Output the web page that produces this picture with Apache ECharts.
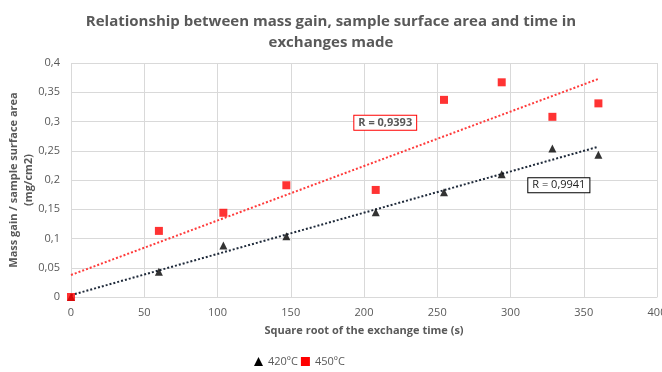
<!DOCTYPE html>
<html><head><meta charset="utf-8">
<script src="https://cdn.jsdelivr.net/npm/echarts@6/dist/echarts.min.js"></script>
<style>html,body{margin:0;padding:0;background:#fff}#c{width:662px;height:372px}</style>
</head><body><div id="c"></div>
<script>
var xTimes = [0, 60, 104, 147, 208, 254.6, 294, 328.6, 360];
var y420 = [0, 0.043, 0.088, 0.104, 0.145, 0.179, 0.210, 0.254, 0.243];
var y450 = [0, 0.113, 0.144, 0.191, 0.183, 0.337, 0.367, 0.308, 0.331];
var seriesNames = ['420ºC', '450ºC'];
var rLabels = ['R = 0,9941', 'R = 0,9393'];
var rLabelPos420 = [333, 0.191];
var rLabelPos450 = [214.5, 0.298];

function pairs(xs, ys){ return xs.map(function(x,i){ return [x, ys[i]]; }); }
function fit(xs, ys){
  var n = xs.length, mx = 0, my = 0;
  for (var i=0;i<n;i++){ mx += xs[i]; my += ys[i]; }
  mx/=n; my/=n;
  var sxy=0, sxx=0;
  for (var j=0;j<n;j++){ sxy += (xs[j]-mx)*(ys[j]-my); sxx += (xs[j]-mx)*(xs[j]-mx); }
  var b = sxy/sxx, a = my - b*mx;
  var x0 = Math.min.apply(null, xs), x1 = Math.max.apply(null, xs);
  return [[x0, a+b*x0],[x1, a+b*x1]];
}
var fmt = function(v){ return String(+v.toFixed(2)).replace('.', ','); };
var txt = '#595959';
var font = 'Open Sans';
var chart = echarts.init(document.getElementById('c'));
chart.setOption({
  animation: false,
  textStyle: {fontFamily: font},
  title: {
    text: 'Relationship between mass gain, sample surface area and time in\nexchanges made',
    left: 'center', top: 6,
    textStyle: {fontFamily: font, fontSize: 15, fontWeight: 'bold', color: txt, lineHeight: 21}
  },
  legend: {
    bottom: 0, left: 249, itemWidth: 9, itemHeight: 9, itemGap: 3,
    textStyle: {color: txt, fontSize: 11, fontFamily: font},
    data: [{name: seriesNames[0], icon: 'triangle', itemStyle:{color:'#000'}}, {name: seriesNames[1], icon: 'rect', itemStyle:{color:'#ff0000'}}]
  },
  grid: {left: 71, right: 5, top: 63, bottom: 75, containLabel: false, outerBoundsMode: 'none'},
  xAxis: {
    type: 'value', min: 0, max: 400, interval: 50,
    name: 'Square root of the exchange time (s)', nameLocation: 'middle', nameGap: 28, nameMoveOverlap: false,
    nameTextStyle: {color: txt, fontSize: 11, fontWeight: 'bold', fontFamily: font},
    axisLine: {show: true, lineStyle: {color: '#d9d9d9'}},
    axisTick: {show: false},
    axisLabel: {color: txt, fontSize: 11, margin: 10, fontFamily: font},
    splitLine: {show: true, lineStyle: {color: '#d9d9d9', width: 1}}
  },
  yAxis: {
    type: 'value', min: 0, max: 0.4, interval: 0.05,
    name: 'Mass gain / sample surface area\n(mg/cm2)', nameLocation: 'middle', nameGap: 35, nameRotate: 90, nameMoveOverlap: false,
    nameTextStyle: {color: txt, fontSize: 11, fontWeight: 'bold', fontFamily: font, lineHeight: 15},
    axisLine: {show: false},
    axisTick: {show: false},
    axisLabel: {color: txt, fontSize: 11, margin: 11, formatter: fmt, fontFamily: font},
    splitLine: {show: true, lineStyle: {color: '#d9d9d9', width: 1}}
  },
  series: [
    {name: seriesNames[0], type: 'line', data: fit(xTimes, y420), showSymbol: false, symbol: 'none',
     lineStyle: {color: '#1f2a3a', width: 2, type: [2, 2]}, silent: true, z: 2,
     markPoint: {symbol: 'rect', symbolSize: 0, data: [{coord: rLabelPos420, value: rLabels[0]}],
       label: {show: true, formatter: rLabels[0], color: '#222', fontSize: 11, fontFamily: font,
         backgroundColor: '#fff', borderColor: '#000', borderWidth: 1, padding: [2, 4, 1, 4]}}},
    {name: seriesNames[1], type: 'line', data: fit(xTimes, y450), showSymbol: false, symbol: 'none',
     lineStyle: {color: '#ff3b3b', width: 2, type: [2, 2]}, silent: true, z: 2,
     markPoint: {symbol: 'rect', symbolSize: 0, data: [{coord: rLabelPos450, value: rLabels[1]}],
       label: {show: true, formatter: rLabels[1], color: txt, fontSize: 11, fontWeight: 'bold', fontFamily: font,
         backgroundColor: '#fff', borderColor: '#ff0000', borderWidth: 1, padding: [2, 4, 1, 4]}}},
    {name: seriesNames[0], type: 'scatter', data: pairs(xTimes, y420), symbol: 'triangle', symbolSize: 8,
     itemStyle: {color: '#000'}, z: 3},
    {name: seriesNames[1], type: 'scatter', data: pairs(xTimes, y450), symbol: 'rect', symbolSize: 8,
     itemStyle: {color: '#ff0000'}, z: 4}
  ]
});
</script></body></html>
